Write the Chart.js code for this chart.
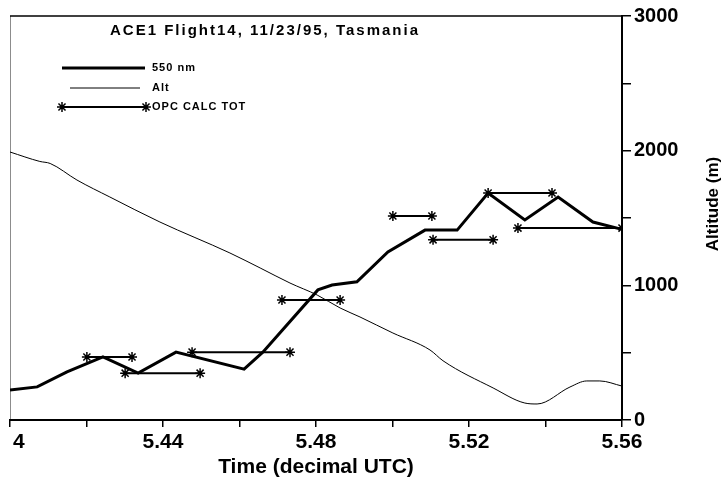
<!DOCTYPE html>
<html>
<head>
<meta charset="utf-8">
<script src="https://cdn.jsdelivr.net/npm/chart.js@4.4.1/dist/chart.umd.min.js"></script>
<style>
  html, body { margin: 0; padding: 0; background: #fff; }
  #wrap { position: relative; width: 726px; height: 483px; }
</style>
</head>
<body>
<div id="wrap"><canvas id="chart"></canvas></div>
<script>
// 550 nm extinction (left axis is not labelled in the original, arbitrary units 0-100)
const ext550Time = [5.4000, 5.4071, 5.4149, 5.4243, 5.4335, 5.4434, 5.4612, 5.4661, 5.4805, 5.4842,
  5.4907, 5.4988, 5.5085, 5.5169, 5.5250, 5.5346, 5.5433, 5.5524, 5.5595];
const ext550 = [7.4, 8.2, 11.9, 15.6, 11.6, 16.8, 12.6, 16.8, 32.2, 33.4,
  34.2, 41.6, 47.0, 47.0, 56.2, 49.5, 55.2, 49.0, 47.3];

// aircraft altitude (m), right axis
const altTime = [5.4000, 5.4078, 5.4105, 5.4175, 5.4261, 5.4392, 5.4575, 5.4654, 5.4732, 5.4803, 5.4863,
  5.4915, 5.5001, 5.5098, 5.5132, 5.5263, 5.5346, 5.5378, 5.5464, 5.5508, 5.5542, 5.5600];
const altM = [1990, 1920, 1905, 1782, 1656, 1470, 1240, 1129, 1017, 928, 832,
  765, 646, 520, 440, 238, 126, 119, 245, 290, 290, 252];

// OPC calculated total: each value spans a time interval
const opcStart = [5.4201, 5.4301, 5.4476, 5.4711, 5.5001, 5.5106, 5.5250, 5.5328];
const opcEnd = [5.4319, 5.4497, 5.4732, 5.4863, 5.5103, 5.5263, 5.5417, 5.5600];
const opcValue = [15.6, 11.6, 16.8, 29.7, 50.5, 44.6, 56.2, 47.5];

const seriesNames = ['550 nm', 'Alt', 'OPC CALC TOT'];
const chartTitle = 'ACE1 Flight14, 11/23/95, Tasmania';
const xTitle = 'Time (decimal UTC)';
const yAltTitle = 'Altitude (m)';

const opcData = [];
opcValue.forEach((v, i) => {
  opcData.push({ x: opcStart[i], y: v }, { x: opcEnd[i], y: v }, { x: opcEnd[i], y: null });
});

const FONT = '"Liberation Sans", Arial, sans-serif';

// title, legend and right axis title sit inside / beside the plot like the original
const overlayText = {
  id: 'overlayText',
  beforeDatasetsDraw(chart) {
    const { ctx, chartArea } = chart;
    ctx.save();
    ctx.strokeStyle = '#000';
    ctx.lineWidth = 1.5;
    ctx.beginPath();
    ctx.moveTo(chartArea.left, chartArea.top);
    ctx.lineTo(chartArea.right, chartArea.top);
    ctx.stroke();
    ctx.strokeStyle = 'rgba(0,0,0,0.45)';
    ctx.lineWidth = 1;
    ctx.beginPath();
    ctx.moveTo(chartArea.left + 0.5, chartArea.top);
    ctx.lineTo(chartArea.left + 0.5, chartArea.bottom);
    ctx.stroke();
    ctx.restore();
  },
  afterDraw(chart) {
    const { ctx } = chart;
    ctx.save();
    ctx.fillStyle = '#000';
    ctx.textBaseline = 'middle';
    ctx.font = 'bold 15px ' + FONT;
    ctx.letterSpacing = '2px';
    ctx.fillText(chartTitle, 110, 31);

    // legend
    const rows = [
      { y: 68, x0: 62, x1: 145 },
      { y: 88, x0: 70, x1: 140 },
      { y: 107, x0: 62, x1: 146 }
    ];
    ctx.font = 'bold 11px ' + FONT;
    ctx.letterSpacing = '1px';
    chart.data.datasets.forEach((ds, i) => {
      const r = rows[i];
      ctx.strokeStyle = ds.borderColor;
      ctx.lineWidth = ds.borderWidth;
      ctx.beginPath();
      ctx.moveTo(r.x0, r.y);
      ctx.lineTo(r.x1, r.y);
      ctx.stroke();
      if (ds.pointStyle === 'star') {
        const opt = { pointStyle: 'star', radius: ds.pointRadius, rotation: 0, borderWidth: ds.pointBorderWidth };
        ctx.lineWidth = ds.pointBorderWidth;
        Chart.helpers.drawPoint(ctx, opt, r.x0, r.y);
        Chart.helpers.drawPoint(ctx, opt, r.x1, r.y);
      }
      ctx.fillText(ds.label, 152, r.y);
    });

    // right axis title, reading upwards
    ctx.letterSpacing = '0px';
    ctx.font = 'bold 17px ' + FONT;
    ctx.textAlign = 'center';
    ctx.translate(713, 204);
    ctx.rotate(-Math.PI / 2);
    ctx.fillText(yAltTitle, 0, 0);
    ctx.restore();
  }
};

new Chart(document.getElementById('chart'), {
  type: 'line',
  data: {
    datasets: [
      {
        label: seriesNames[0],
        data: ext550Time.map((t, i) => ({ x: t, y: ext550[i] })),
        yAxisID: 'yExt',
        borderColor: '#000',
        borderWidth: 3,
        pointRadius: 0,
        tension: 0
      },
      {
        label: seriesNames[1],
        data: altTime.map((t, i) => ({ x: t, y: altM[i] })),
        yAxisID: 'yAlt',
        borderColor: '#000',
        borderWidth: 1,
        pointRadius: 0,
        cubicInterpolationMode: 'monotone'
      },
      {
        label: seriesNames[2],
        data: opcData,
        yAxisID: 'yExt',
        borderColor: '#000',
        borderWidth: 2,
        pointStyle: 'star',
        pointRadius: 5,
        pointBorderWidth: 1.5,
        pointBorderColor: '#000',
        spanGaps: false,
        tension: 0
      }
    ]
  },
  options: {
    responsive: true,
    maintainAspectRatio: false,
    animation: false,
    layout: { padding: { left: 10, top: 16, right: 0, bottom: 0 } },
    plugins: {
      legend: { display: false },
      tooltip: { enabled: false }
    },
    scales: {
      x: {
        type: 'linear',
        position: 'bottom',
        min: 5.40,
        max: 5.56,
        afterFit: (s) => { s.height = 63; s.paddingLeft = 0; s.paddingRight = 0; },
        grid: { drawOnChartArea: false, color: '#000', lineWidth: 1.5, tickLength: 7 },
        border: { color: '#000', width: 2 },
        ticks: {
          stepSize: 0.02,
          autoSkip: false,
          maxRotation: 0,
          padding: 3,
          color: '#000',
          font: { family: FONT, size: 21, weight: 'bold' },
          callback: (v) => {
            const k = Math.round(v * 100);
            if (k % 4 !== 0) return '';
            if (k === 540) return '\u2007\u20084';
            return (k / 100).toFixed(2);
          }
        },
        title: {
          display: true,
          text: xTitle,
          color: '#000',
          font: { family: FONT, size: 21, weight: 'bold' },
          padding: { top: 0, bottom: 3 }
        }
      },
      yAlt: {
        position: 'right',
        min: 0,
        max: 3000,
        afterFit: (s) => { s.width = 104; s.paddingTop = 0; s.paddingBottom = 0; },
        grid: { drawOnChartArea: false, color: '#000', lineWidth: 1.5, tickLength: 9 },
        border: { color: '#000', width: 2 },
        ticks: {
          stepSize: 500,
          padding: 3,
          color: '#000',
          font: { family: FONT, size: 20, weight: 'bold' },
          callback: (v) => (v % 1000 === 0 ? v : '')
        }
      },
      yExt: {
        display: false,
        min: 0,
        max: 100
      }
    }
  },
  plugins: [overlayText]
});
</script>
</body>
</html>
